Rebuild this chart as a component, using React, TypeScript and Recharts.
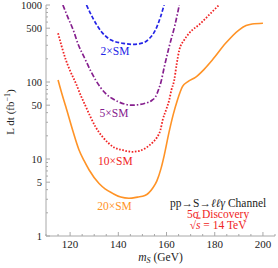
import { LineChart, Line, XAxis, YAxis, ReferenceDot } from 'recharts';

const font = '"Liberation Serif", "DejaVu Serif", serif';
const axisColor = '#a8a8a8';
const textColor = '#222';

// 2×SM (blue, dashed)
const blueM = [126.8, 129.5, 133, 137, 142, 146, 150.5, 153, 155.5, 157.5, 159];
const blueL = [1000, 670, 450, 350, 318, 308, 325, 370, 480, 700, 1000];

// 5×SM (purple, dash-dot)
const purpleM = [117, 119, 121.3, 123.5, 126, 128.5, 130.6, 134.7, 137.5, 140.2, 145.7, 151.2, 154, 155.4, 156.7, 157.7, 159.1, 161.1, 163.5, 165.3];
const purpleL = [1000, 700, 473, 300, 205, 140, 106, 71, 61, 55, 50, 53, 58, 64, 80, 100, 158, 288, 550, 1000];

// 10×SM (red, dotted)
const redM = [115, 116.5, 118.2, 120, 122.4, 124.5, 126.5, 128.5, 130.6, 133.4, 136, 138.5, 141.6, 145.7, 149, 151.2, 154.3, 156, 157.5, 158.4, 160, 161.1, 162, 163.2, 164.2, 165.3, 167.3, 169.4, 174.2, 178.3, 181.8];
const redL = [430, 290, 195, 140, 96, 66, 48, 35, 26, 19.5, 16, 14, 13.1, 12.4, 12.8, 13.8, 16.5, 19, 24, 32, 45, 58, 78, 106, 170, 260, 350, 430, 580, 780, 1000];

// 20×SM (orange, solid)
const orangeM = [115, 116.5, 118.2, 121, 123.7, 125.8, 127.9, 132, 134.5, 137.5, 141, 144.4, 148, 151, 154.3, 156, 157.7, 159, 161, 162.8, 164.5, 166.6, 169, 172, 175.5, 179, 184.5, 190, 193, 195.5, 200];
const orangeL = [106, 72, 48, 24, 13.1, 9.5, 7.2, 4.8, 4.1, 3.6, 3.2, 3.09, 3.2, 3.35, 4.2, 5.2, 7.5, 11, 22, 38, 58, 87, 102, 115, 145, 193, 318, 473, 540, 566, 580];

const xTicks = [110, 115, 120, 125, 130, 135, 140, 145, 150, 155, 160, 165, 170, 175, 180, 185, 190, 195, 200, 205];
const xLabels = [120, 140, 160, 180, 200];
const yTicks = [1, 2, 3, 4, 5, 6, 7, 8, 9, 10, 20, 30, 40, 50, 60, 70, 80, 90, 100, 200, 300, 400, 500, 600, 700, 800, 900, 1000];
const yLabels = [1, 5, 10, 50, 100, 500, 1000];

const curveLabels = [
  { m: 138.6, L: 224, text: '2×SM', color: '#2424e6' },
  { m: 138.2, L: 35, text: '5×SM', color: '#86208e' },
  { m: 138.8, L: 8.4, text: '10×SM', color: '#f02424' },
  { m: 138.4, L: 2.18, text: '20×SM', color: '#ff9326' },
];

const toRows = (ms: number[], ls: number[]) => ms.map((m, i) => ({ m, L: ls[i] }));

const XTick = (props: any) => {
  const { x, y, payload } = props;
  const major = xLabels.includes(payload.value);
  return (
    <g>
      <line x1={x} x2={x} y1={y} y2={y - (major ? 4 : 2)} stroke={axisColor} />
      {major && (
        <text x={x} y={y + 12} textAnchor="middle" fontFamily={font} fontSize={11} fill={textColor}>
          {payload.value}
        </text>
      )}
    </g>
  );
};

const XTopTick = (props: any) => {
  const { x, y, payload } = props;
  const major = xLabels.includes(payload.value);
  return <line x1={x} x2={x} y1={y} y2={y + (major ? 4 : 2)} stroke={axisColor} />;
};

const YTick = (props: any) => {
  const { x, y, payload } = props;
  const major = yLabels.includes(payload.value);
  return (
    <g>
      <line x1={x} x2={x + (major ? 4 : 2)} y1={y} y2={y} stroke={axisColor} />
      {major && (
        <text x={x - 4} y={y + 3.5} textAnchor="end" fontFamily={font} fontSize={10.5} fill={textColor}>
          {payload.value}
        </text>
      )}
    </g>
  );
};

const YRightTick = (props: any) => {
  const { x, y, payload } = props;
  const major = yLabels.includes(payload.value);
  return <line x1={x} x2={x - (major ? 4 : 2)} y1={y} y2={y} stroke={axisColor} />;
};

export default function App() {
  return (
    <div style={{ position: 'absolute', left: 0, top: 0 }}>
      <LineChart width={278} height={268} margin={{ top: 5, right: 3, left: 0, bottom: 0 }}>
        <XAxis
          dataKey="m"
          type="number"
          domain={[110, 205]}
          ticks={xTicks}
          interval={0}
          allowDataOverflow
          height={32}
          stroke={axisColor}
          tickSize={0}
          tickMargin={0}
          tick={<XTick />}
          label={{
            content: (p: any) => (
              <text x={p.viewBox.x + p.viewBox.width / 2} y={p.viewBox.y + 25} textAnchor="middle" fontFamily={font} fontSize={11.5} fill={textColor}>
                <tspan fontStyle="italic">m</tspan>
                <tspan fontStyle="italic" fontSize={8} dy={2}>S</tspan>
                <tspan dy={-2}> (GeV)</tspan>
              </text>
            ),
          }}
        />
        <XAxis
          xAxisId="top"
          orientation="top"
          type="number"
          domain={[110, 205]}
          ticks={xTicks}
          interval={0}
          allowDataOverflow
          height={0}
          stroke={axisColor}
          tickSize={0}
          tickMargin={0}
          tick={<XTopTick />}
        />
        <YAxis
          type="number"
          scale="log"
          domain={[1, 1000]}
          ticks={yTicks}
          interval={0}
          allowDataOverflow
          width={46}
          stroke={axisColor}
          tickSize={0}
          tickMargin={0}
          tick={<YTick />}
          label={{
            content: () => (
              <text x={14} y={112} transform="rotate(-90 14 112)" textAnchor="middle" fontFamily={font} fontSize={11} fill={textColor}>
                L dt (fb<tspan fontSize={8} dy={-4}>−1</tspan>
                <tspan dy={4}>)</tspan>
              </text>
            ),
          }}
        />
        <YAxis
          yAxisId="right"
          orientation="right"
          type="number"
          scale="log"
          domain={[1, 1000]}
          ticks={yTicks}
          interval={0}
          allowDataOverflow
          width={0}
          stroke={axisColor}
          tickSize={0}
          tickMargin={0}
          tick={<YRightTick />}
        />
        <Line data={toRows(orangeM, orangeL)} dataKey="L" type="monotone" stroke="#ff9326" strokeWidth={1.6} dot={false} activeDot={false} isAnimationActive={false} />
        <Line data={toRows(redM, redL)} dataKey="L" type="monotone" stroke="#f02424" strokeWidth={1.8} strokeDasharray="1.6 1.6" dot={false} activeDot={false} isAnimationActive={false} />
        <Line data={toRows(purpleM, purpleL)} dataKey="L" type="monotone" stroke="#86208e" strokeWidth={1.7} strokeDasharray="5 2 1.5 2" dot={false} activeDot={false} isAnimationActive={false} />
        <Line data={toRows(blueM, blueL)} dataKey="L" type="monotone" stroke="#2424e6" strokeWidth={1.7} strokeDasharray="4 2" dot={false} activeDot={false} isAnimationActive={false} />
        {curveLabels.map((c) => (
          <ReferenceDot
            key={c.text}
            x={c.m}
            y={c.L}
            r={0}
            shape={(p: any) => (
              <text x={p.cx} y={p.cy} textAnchor="middle" fontFamily={font} fontSize={11.5} fill={c.color}>
                {c.text}
              </text>
            )}
          />
        ))}
        <ReferenceDot
          x={181.4}
          y={2.38}
          r={0}
          shape={(p: any) => (
            <g fontFamily={font} fontSize={11.5} textAnchor="middle">
              <text x={p.cx} y={p.cy} fill={textColor}>
                pp→S→<tspan fontStyle="italic">ℓℓγ</tspan> Channel
              </text>
              <text x={p.cx} y={p.cy + 10.5} fill="#f02424">
                5σ Discovery
              </text>
              <text x={p.cx} y={p.cy + 21.5} fill="#f02424">
                √<tspan fontStyle="italic" style={{ textDecoration: 'overline' }}>s</tspan> = 14 TeV
              </text>
            </g>
          )}
        />
      </LineChart>
    </div>
  );
}
